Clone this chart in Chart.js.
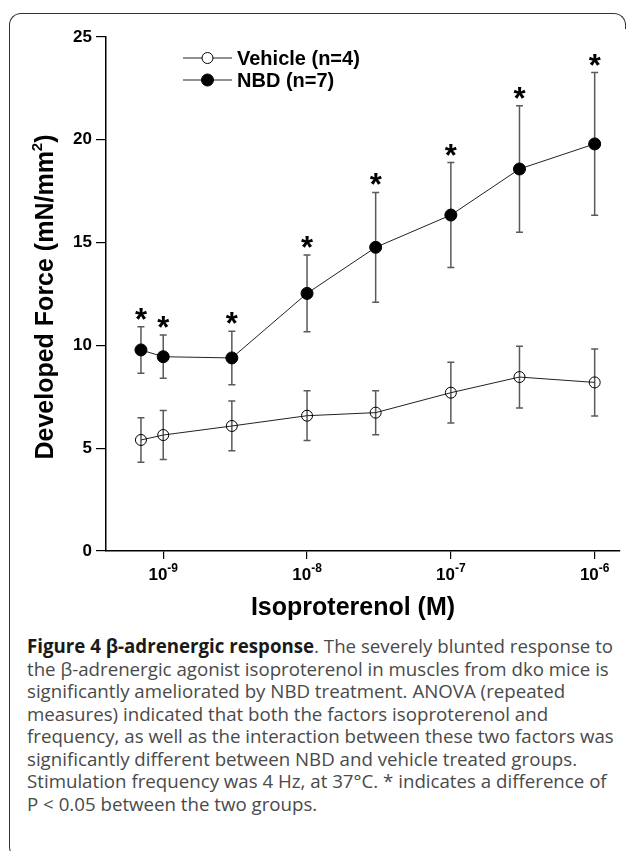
<!DOCTYPE html>
<html>
<head>
<meta charset="utf-8">
<script src="https://cdn.jsdelivr.net/npm/chart.js@4.4.1/dist/chart.umd.min.js"></script>
<style>
  html, body { margin: 0; padding: 0; background: #fff; width: 629px; height: 851px; overflow: hidden; }
  .frame { position: absolute; left: 9px; top: 13px; width: 400px; height: 846px; box-sizing: border-box;
           border-left: 1.5px solid #333; border-top: 1.5px solid #333; border-bottom: 1.5px solid #333;
           border-radius: 12px 0 0 12px; }
  .frame-tr { position: absolute; left: 400px; top: 13px; width: 226px; height: 16px; box-sizing: border-box;
              border-top: 1.5px solid #333; border-right: 1.5px solid #333; border-radius: 0 12px 0 0; }
  #chart-wrap { position: absolute; left: 0; top: 0; width: 629px; height: 630px; }
  .caption { position: absolute; left: 27px; top: 635px; white-space: nowrap;
             font-family: "Open Sans", sans-serif; font-size: 18.7px; line-height: 22.5px; color: #4a4a4a; }
  .caption b { color: #1a1a1a; }
</style>
</head>
<body>
<div class="frame"></div>
<div class="frame-tr"></div>
<div id="chart-wrap"><canvas id="force-chart"></canvas></div>
<div class="caption">
<b>Figure 4 β-adrenergic response</b>. The severely blunted response to<br>
the β-adrenergic agonist isoproterenol in muscles from dko mice is<br>
significantly ameliorated by NBD treatment. ANOVA (repeated<br>
measures) indicated that both the factors isoproterenol and<br>
frequency, as well as the interaction between these two factors was<br>
significantly different between NBD and vehicle treated groups.<br>
Stimulation frequency was 4 Hz, at 37°C. * indicates a difference of<br>
P &lt; 0.05 between the two groups.
</div>
<script>
// ── DATA ──────────────────────────────────────────────────────────
const concentrations = [7e-10, 1e-9, 3e-9, 1e-8, 3e-8, 1e-7, 3e-7, 1e-6]; // M
const vehicleMean = [5.40, 5.64, 6.08, 6.58, 6.73, 7.70, 8.46, 8.20];
const vehicleSem  = [1.08, 1.19, 1.21, 1.21, 1.07, 1.48, 1.50, 1.63];
const nbdMean     = [9.78, 9.45, 9.39, 12.53, 14.77, 16.34, 18.58, 19.80];
const nbdSem      = [1.13, 1.05, 1.30, 1.87, 2.67, 2.55, 3.08, 3.47];
const significant = [true, true, true, true, true, true, true, true];
const xTickValues = [1e-9, 1e-8, 1e-7, 1e-6];
const seriesLabels = ['Vehicle (n=4)', 'NBD (n=7)'];

const FONT = 'Arial, "Liberation Sans", Helvetica, sans-serif';
const toPoints = means => concentrations.map((c, i) => ({ x: c, y: means[i] }));

// error bars, asterisks, legend, superscript tick labels and axis titles
const figureExtras = {
  id: 'figureExtras',
  beforeDatasetsDraw(chart) {
    const { ctx, scales: { x, y } } = chart;
    const sems = [vehicleSem, nbdSem];
    ctx.save();
    ctx.strokeStyle = '#5a5a5a';
    ctx.lineWidth = 1.5;
    chart.data.datasets.forEach((ds, d) => {
      ds.data.forEach((p, i) => {
        const px = x.getPixelForValue(p.x);
        const top = y.getPixelForValue(p.y + sems[d][i]);
        const bot = y.getPixelForValue(p.y - sems[d][i]);
        ctx.beginPath();
        ctx.moveTo(px, top); ctx.lineTo(px, bot);
        ctx.moveTo(px - 3.5, top); ctx.lineTo(px + 3.5, top);
        ctx.moveTo(px - 3.5, bot); ctx.lineTo(px + 3.5, bot);
        ctx.stroke();
      });
    });
    ctx.restore();
  },
  afterDatasetsDraw(chart) {
    const { ctx, scales: { x, y } } = chart;
    ctx.save();
    ctx.fillStyle = '#000';

    // significance stars above NBD error bars
    ctx.font = `bold 31px ${FONT}`;
    ctx.textAlign = 'center';
    ctx.textBaseline = 'alphabetic';
    concentrations.forEach((c, i) => {
      if (!significant[i]) return;
      const top = y.getPixelForValue(nbdMean[i] + nbdSem[i]);
      ctx.fillText('*', x.getPixelForValue(c), top + 3);
    });

    // x tick labels as 10^n
    ctx.textAlign = 'left';
    x.ticks.forEach(t => {
      const px = x.getPixelForValue(t.value);
      const exp = String(Math.round(Math.log10(t.value)));
      ctx.font = `bold 17px ${FONT}`;
      const w1 = ctx.measureText('10').width;
      ctx.font = `bold 12px ${FONT}`;
      const w2 = ctx.measureText(exp).width;
      const x0 = px - (w1 + w2) / 2;
      ctx.font = `bold 17px ${FONT}`;
      ctx.fillText('10', x0, 580);
      ctx.font = `bold 12px ${FONT}`;
      ctx.fillText(exp, x0 + w1, 572);
    });

    // x axis title
    ctx.font = `bold 25px ${FONT}`;
    ctx.textAlign = 'center';
    ctx.fillText('Isoproterenol (M)', 353, 615);

    // y axis title with superscript
    ctx.save();
    ctx.translate(53, 297);
    ctx.rotate(-Math.PI / 2);
    ctx.textAlign = 'left';
    const partA = 'Developed Force (mN/mm', partB = '2', partC = ')';
    ctx.font = `bold 25px ${FONT}`;
    const wa = ctx.measureText(partA).width, wc = ctx.measureText(partC).width;
    ctx.font = `bold 15px ${FONT}`;
    const wb = ctx.measureText(partB).width;
    let tx = -(wa + wb + wc) / 2;
    ctx.font = `bold 25px ${FONT}`;
    ctx.fillText(partA, tx, 0); tx += wa;
    ctx.font = `bold 15px ${FONT}`;
    ctx.fillText(partB, tx, -11); tx += wb;
    ctx.font = `bold 25px ${FONT}`;
    ctx.fillText(partC, tx, 0);
    ctx.restore();

    // legend
    const rows = [{ y: 58, base: 65 }, { y: 80, base: 87 }];
    chart.data.datasets.forEach((ds, d) => {
      const r = rows[d];
      ctx.strokeStyle = '#222';
      ctx.lineWidth = 1;
      ctx.beginPath(); ctx.moveTo(183, r.y); ctx.lineTo(232, r.y); ctx.stroke();
      ctx.beginPath();
      ctx.arc(207.5, r.y, ds.pointRadius, 0, Math.PI * 2);
      ctx.fillStyle = d === 1 ? ds.pointBackgroundColor : '#fff';
      ctx.fill();
      ctx.strokeStyle = '#000'; ctx.stroke();
      ctx.fillStyle = '#000';
      ctx.font = `bold 20px ${FONT}`;
      ctx.textAlign = 'left';
      ctx.fillText(ds.label, 237, r.base);
    });
    ctx.restore();
  }
};

new Chart(document.getElementById('force-chart'), {
  type: 'line',
  data: {
    datasets: [
      {
        label: seriesLabels[0],
        data: toPoints(vehicleMean),
        borderColor: '#222',
        borderWidth: 1,
        pointRadius: 5.5,
        pointBorderWidth: 1,
        pointBorderColor: '#000',
        pointBackgroundColor: 'rgba(0,0,0,0)',
        tension: 0,
      },
      {
        label: seriesLabels[1],
        data: toPoints(nbdMean),
        borderColor: '#222',
        borderWidth: 1,
        pointRadius: 6,
        pointBorderWidth: 1,
        pointBorderColor: '#000',
        pointBackgroundColor: '#000',
        tension: 0,
      }
    ]
  },
  options: {
    responsive: true,
    maintainAspectRatio: false,
    animation: false,
    layout: { padding: { top: 37, right: 9, left: 0, bottom: 0 } },
    plugins: { legend: { display: false }, tooltip: { enabled: false } },
    scales: {
      x: {
        type: 'logarithmic',
        min: 4e-10,
        max: 1.5e-6,
        afterBuildTicks: s => { s.ticks = xTickValues.map(v => ({ value: v })); },
        afterFit: s => { s.height = 79; },
        ticks: { display: false },
        grid: { drawOnChartArea: false, drawTicks: true, tickLength: 8, color: '#000', lineWidth: 1.2 },
        border: { display: true, color: '#000', width: 1.5 },
      },
      y: {
        min: 0,
        max: 25,
        afterFit: s => { s.width = 106; },
        ticks: { stepSize: 5, color: '#000', padding: 4, font: { family: FONT, size: 17, weight: 'bold' } },
        grid: { drawOnChartArea: false, drawTicks: true, tickLength: 10, color: '#000', lineWidth: 1.2 },
        border: { display: true, color: '#000', width: 1.5 },
      }
    }
  },
  plugins: [figureExtras]
});
</script>
</body>
</html>
